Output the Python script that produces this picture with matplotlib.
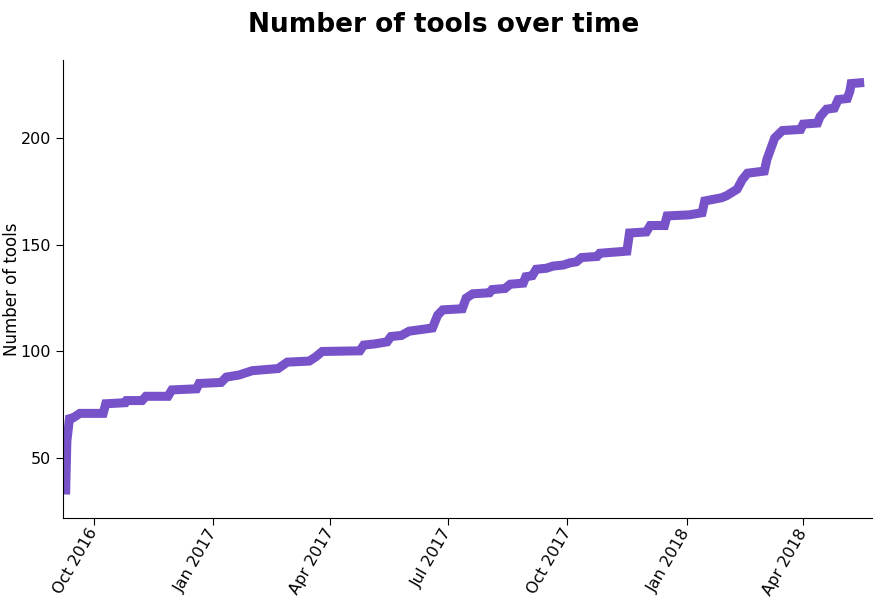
import matplotlib
matplotlib.use("Agg")
import matplotlib.pyplot as plt
import matplotlib.dates as mdates
import numpy as np
import pandas as pd

# points (date, number of tools)
dates = [
    "2016-09-09", "2016-09-10", "2016-09-12", "2016-09-15", "2016-09-20",
    "2016-10-08", "2016-10-10", "2016-10-25", "2016-10-26", "2016-11-07",
    "2016-11-10", "2016-11-27", "2016-11-30", "2016-12-19", "2016-12-21",
    "2017-01-07", "2017-01-11", "2017-01-21", "2017-01-31", "2017-02-20",
    "2017-02-27", "2017-03-16", "2017-03-21", "2017-03-26", "2017-04-24",
    "2017-04-27", "2017-05-05", "2017-05-15", "2017-05-18", "2017-05-26",
    "2017-06-01", "2017-06-19", "2017-06-23", "2017-06-27", "2017-07-12",
    "2017-07-15", "2017-07-20", "2017-08-02", "2017-08-04", "2017-08-14",
    "2017-08-18", "2017-08-28", "2017-08-30", "2017-09-04", "2017-09-07",
    "2017-09-15", "2017-09-20", "2017-09-28", "2017-10-03", "2017-10-08",
    "2017-10-12", "2017-10-24", "2017-10-26", "2017-11-16", "2017-11-18",
    "2017-12-01", "2017-12-04", "2017-12-15", "2017-12-17", "2018-01-03",
    "2018-01-13", "2018-01-15", "2018-01-28", "2018-02-01", "2018-02-09",
    "2018-02-13", "2018-02-17", "2018-03-02", "2018-03-04", "2018-03-10",
    "2018-03-16", "2018-03-30", "2018-04-01", "2018-04-12", "2018-04-14",
    "2018-04-19", "2018-04-25", "2018-04-28", "2018-05-05", "2018-05-07",
    "2018-05-08", "2018-05-18",
]
n_tools = [
    33, 58, 68.5, 69, 71,
    71, 75.5, 76, 77, 77,
    79, 79, 82, 82.5, 85,
    85.5, 88, 89, 91, 92,
    95, 95.5, 97.5, 100, 100.3,
    103, 103.5, 104.5, 107, 107.5,
    109.5, 111, 117, 119.5, 120,
    125, 127, 127.5, 129, 129.5,
    131.5, 132, 135, 135.5, 138.5,
    139, 140, 140.5, 141.5, 142,
    144, 144.5, 146, 147, 155.5,
    156, 159, 159, 163.5, 164,
    165, 170.5, 172, 173, 176,
    180.5, 183.5, 184.5, 190, 200,
    203.5, 204, 206.5, 207, 210,
    213.5, 214, 218, 218.5, 222,
    225.5, 226,
]

x = pd.to_datetime(dates)

fig = plt.figure(figsize=(8.87, 6.13), dpi=100)
ax = fig.add_axes([0.071, 0.155, 0.912, 0.747])
ax.plot(x, n_tools, color="#7752c8", linewidth=6.5, solid_joinstyle="miter",
        solid_capstyle="butt")

ax.set_xlim(pd.Timestamp("2016-09-07"), pd.Timestamp("2018-05-24"))
ax.set_ylim(22, 236.5)
ax.set_yticks([50, 100, 150, 200])
ax.xaxis.set_major_locator(mdates.MonthLocator(bymonth=[1, 4, 7, 10]))
ax.xaxis.set_major_formatter(mdates.DateFormatter("%b %Y"))
ax.tick_params(labelsize=11.5, direction="out", length=5)
for lbl in ax.get_xticklabels():
    lbl.set_rotation(60)
    lbl.set_rotation_mode("anchor")
    lbl.set_ha("right")
    lbl.set_va("center")
ax.set_ylabel("Number of tools", fontsize=12)
ax.yaxis.set_label_coords(-0.052, 0.5)
ax.spines["top"].set_visible(False)
ax.spines["right"].set_visible(False)
fig.suptitle("Number of tools over time", fontsize=19, fontweight="bold",
             y=0.98)

fig.savefig("out.png", dpi=100)
